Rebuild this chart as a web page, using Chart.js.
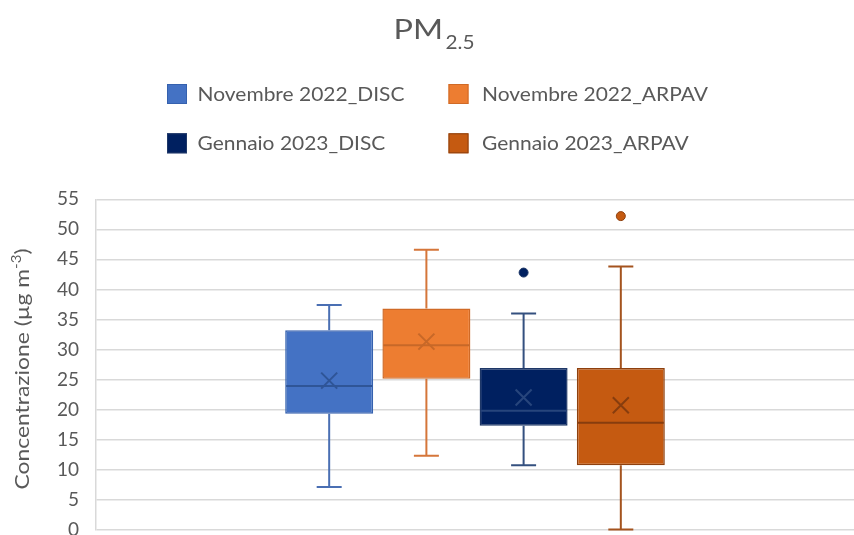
<!DOCTYPE html>
<html lang="it">
<head>
<meta charset="utf-8">
<title>PM2.5</title>
<script src="https://cdn.jsdelivr.net/npm/chart.js@4"></script>
<style>
  html, body { margin: 0; padding: 0; background: #ffffff; overflow: hidden; }
  #wrap { position: relative; width: 854px; height: 558px; }
</style>
</head>
<body>
<div id="wrap"><canvas id="chart" width="854" height="558"></canvas></div>
<script>
// PM2.5 concentration box plots, one box per campaign / monitoring network
const seriesNames = ['Novembre 2022_DISC', 'Novembre 2022_ARPAV', 'Gennaio 2023_DISC', 'Gennaio 2023_ARPAV'];
const whiskerLow  = [7.1, 12.3, 10.7, 0.0];
const quartile1   = [19.3, 25.1, 17.3, 10.7];
const medians     = [23.9, 30.7, 19.8, 17.8];
const quartile3   = [33.2, 36.8, 26.9, 26.9];
const whiskerHigh = [37.4, 46.6, 36.0, 43.8];
const means       = [24.8, 31.3, 22.0, 20.7];
const outliers    = [[], [], [42.8], [52.2]];
const yMin = 0, yMax = 55, yStep = 5;

// Styling
const fillColors    = ['#4472C4', '#ED7D31', '#002060', '#C55A11'];
const borderColors  = ['#3561AE', '#D06A26', '#1E3767', '#8E400E'];
const whiskerColors = ['#4A6FB3', '#D5763A', '#34507F', '#A4531E'];
const centerColors  = ['#2F5597', '#C76828', '#27457C', '#873D0E'];
const textColor = '#595959';
const fontFamily = 'Lato, "Open Sans", sans-serif';

const datasets = seriesNames.map((name, i) => ({
  label: name,
  data: [[quartile1[i], quartile3[i]]],
  backgroundColor: fillColors[i],
  borderColor: borderColors[i],
  borderWidth: 1.5,
  borderSkipped: false,
  categoryPercentage: 0.513,
  barPercentage: 0.905
}));

// Whiskers, medians, means and outliers drawn on top of the quartile boxes
const boxExtras = {
  id: 'boxExtras',
  afterDatasetsDraw(chart) {
    const ctx = chart.ctx;
    const ys = chart.scales.y;
    ctx.save();
    seriesNames.forEach((_, i) => {
      const el = chart.getDatasetMeta(i).data[0];
      if (!el) return;
      const x = el.x;
      const half = el.width / 2;
      const cap = 12.5;
      const yLo = ys.getPixelForValue(whiskerLow[i]);
      const yQ1 = ys.getPixelForValue(quartile1[i]);
      const yQ3 = ys.getPixelForValue(quartile3[i]);
      const yHi = ys.getPixelForValue(whiskerHigh[i]);
      ctx.strokeStyle = whiskerColors[i];
      ctx.lineWidth = 2;
      ctx.beginPath();
      ctx.moveTo(x, yQ3); ctx.lineTo(x, yHi);
      ctx.moveTo(x - cap, yHi); ctx.lineTo(x + cap, yHi);
      ctx.moveTo(x, yQ1); ctx.lineTo(x, yLo);
      ctx.moveTo(x - cap, yLo); ctx.lineTo(x + cap, yLo);
      ctx.stroke();

      // median
      const yMed = ys.getPixelForValue(medians[i]);
      ctx.strokeStyle = centerColors[i];
      ctx.lineWidth = 2;
      ctx.beginPath();
      ctx.moveTo(x - half + 1, yMed); ctx.lineTo(x + half - 1, yMed);
      ctx.stroke();

      // mean marker
      const yMean = ys.getPixelForValue(means[i]);
      const m = 8;
      ctx.lineWidth = 2;
      ctx.beginPath();
      ctx.moveTo(x - m, yMean - m); ctx.lineTo(x + m, yMean + m);
      ctx.moveTo(x - m, yMean + m); ctx.lineTo(x + m, yMean - m);
      ctx.stroke();

      // outliers
      ctx.fillStyle = fillColors[i];
      ctx.strokeStyle = borderColors[i];
      ctx.lineWidth = 1;
      outliers[i].forEach(v => {
        ctx.beginPath();
        ctx.arc(x, ys.getPixelForValue(v), 4.5, 0, Math.PI * 2);
        ctx.fill();
        ctx.stroke();
      });
    });
    ctx.restore();
  }
};

// draws text horizontally scaled by sx, anchored at its left edge
function fillScaled(ctx, text, x, y, sx) {
  ctx.save();
  ctx.translate(x, y);
  ctx.scale(sx, 1);
  ctx.fillText(text, 0, 0);
  ctx.restore();
}

// Title with subscript, two-column legend and rotated axis title with superscript
const decorations = {
  id: 'decorations',
  afterDraw(chart) {
    const ctx = chart.ctx;
    ctx.save();
    ctx.fillStyle = textColor;
    ctx.textBaseline = 'alphabetic';
    ctx.textAlign = 'left';

    // chart title
    const mainFont = '26px ' + fontFamily;
    const subFont = '20px ' + fontFamily;
    ctx.font = mainFont;
    const sxMain = 49.5 / ctx.measureText('PM').width;
    fillScaled(ctx, 'PM', 393.5, 38.5, sxMain);
    ctx.font = subFont;
    const sxSub = 29 / ctx.measureText('2.5').width;
    fillScaled(ctx, '2.5', 445.5, 48.5, sxSub);

    // legend
    const colX = [167, 448.5];
    const textX = [197.5, 482];
    const rowY = [94, 143.3];
    const sw = 20;
    ctx.font = '19px ' + fontFamily;
    ctx.textBaseline = 'middle';
    const sxLegend = 207 / ctx.measureText(seriesNames[0]).width;
    seriesNames.forEach((name, i) => {
      const cx = colX[i % 2];
      const cy = rowY[Math.floor(i / 2)];
      ctx.fillStyle = fillColors[i];
      ctx.fillRect(cx, cy - sw / 2, sw, sw);
      ctx.strokeStyle = borderColors[i];
      ctx.lineWidth = 1;
      ctx.strokeRect(cx + 0.5, cy - sw / 2 + 0.5, sw - 1, sw - 1);
      ctx.fillStyle = textColor;
      fillScaled(ctx, name, textX[i % 2], cy + 1, sxLegend);
    });

    // y-axis title
    const base = 'Concentrazione (\u00b5g m';
    const sup = '-3';
    const close = ')';
    const f1 = '19px ' + fontFamily;
    const f2 = '12.5px ' + fontFamily;
    ctx.font = f1;
    const w1 = ctx.measureText(base).width;
    const w3 = ctx.measureText(close).width;
    ctx.font = f2;
    const w2 = ctx.measureText(sup).width;
    const total = w1 + w2 + w3;
    const sxTitle = 241 / total;
    ctx.translate(28.5, 369);
    ctx.rotate(-Math.PI / 2);
    ctx.scale(sxTitle, 1);
    ctx.textBaseline = 'alphabetic';
    ctx.fillStyle = textColor;
    let px = -total / 2;
    ctx.font = f1;
    ctx.fillText(base, px, 0);
    px += w1;
    ctx.font = f2;
    ctx.fillText(sup, px, -8);
    px += w2;
    ctx.font = f1;
    ctx.fillText(close, px, 0);
    ctx.restore();
  }
};

Chart.defaults.font.family = fontFamily;

new Chart(document.getElementById('chart'), {
  type: 'bar',
  data: { labels: ['PM2.5'], datasets },
  options: {
    responsive: false,
    animation: false,
    devicePixelRatio: 1,
    layout: { padding: { top: 199.3, bottom: 18.7, left: 0, right: 0 } },
    plugins: {
      legend: { display: false },
      title: { display: false },
      tooltip: { enabled: false }
    },
    scales: {
      x: { display: false, grouped: true },
      y: {
        min: yMin,
        max: yMax,
        afterFit(scale) { scale.width = 96; },
        ticks: {
          stepSize: yStep,
          color: textColor,
          padding: 17,
          font: { size: 19, family: fontFamily }
        },
        grid: { color: '#D9D9D9', lineWidth: 1.5, drawTicks: false },
        border: { display: true, color: '#D9D9D9', width: 1.5 }
      }
    }
  },
  plugins: [boxExtras, decorations]
});
</script>
</body>
</html>
